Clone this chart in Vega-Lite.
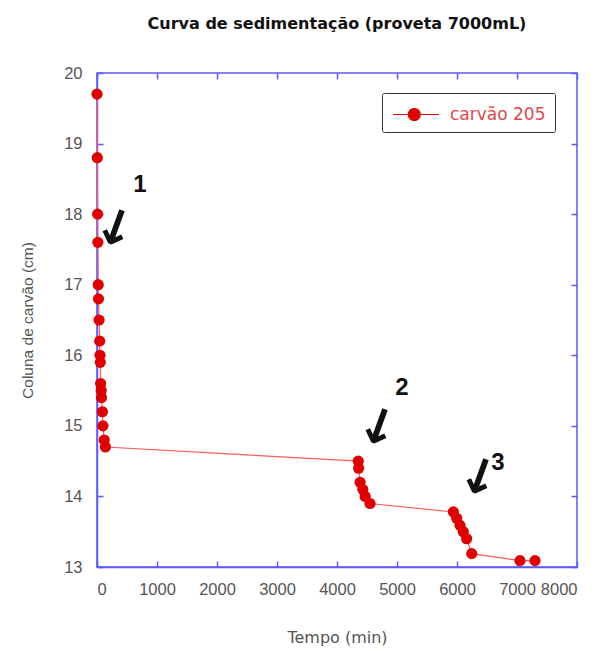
{
  "$schema": "https://vega.github.io/schema/vega-lite/v6.json",
  "width": 480,
  "height": 494,
  "autosize": "none",
  "padding": {"left": 97, "top": 73, "right": 21, "bottom": 84},
  "background": "white",
  "title": {
    "text": "Curva de sedimentação (proveta 7000mL)",
    "font": "DejaVu Sans",
    "fontSize": 16,
    "fontWeight": "bold",
    "color": "#111",
    "offset": 33,
    "anchor": "middle"
  },
  "config": {
    "view": {"stroke": "#5a5aff", "strokeWidth": 1.5},
    "axis": {
      "domainColor": "#5a5aff",
      "domainWidth": 1.5,
      "tickColor": "#5a5aff",
      "tickWidth": 1.5,
      "tickSize": -6,
      "grid": false,
      "labelColor": "#555",
      "labelFont": "Liberation Sans",
      "labelFontSize": 16.5,
      "titleFont": "Liberation Sans",
      "titleFontSize": 15.5,
      "titleFontWeight": "normal",
      "titleColor": "#555"
    }
  },
  "datasets": {
    "pts": [
      {"t": 0, "h": 19.7, "s": "carvão 205"},
      {"t": 5, "h": 18.8, "s": "carvão 205"},
      {"t": 10, "h": 18.0, "s": "carvão 205"},
      {"t": 15, "h": 17.6, "s": "carvão 205"},
      {"t": 20, "h": 17.0, "s": "carvão 205"},
      {"t": 25, "h": 16.8, "s": "carvão 205"},
      {"t": 35, "h": 16.5, "s": "carvão 205"},
      {"t": 45, "h": 16.2, "s": "carvão 205"},
      {"t": 50, "h": 16.0, "s": "carvão 205"},
      {"t": 55, "h": 15.9, "s": "carvão 205"},
      {"t": 60, "h": 15.6, "s": "carvão 205"},
      {"t": 70, "h": 15.5, "s": "carvão 205"},
      {"t": 75, "h": 15.4, "s": "carvão 205"},
      {"t": 90, "h": 15.2, "s": "carvão 205"},
      {"t": 100, "h": 15.0, "s": "carvão 205"},
      {"t": 120, "h": 14.8, "s": "carvão 205"},
      {"t": 140, "h": 14.7, "s": "carvão 205"},
      {"t": 4355, "h": 14.5, "s": "carvão 205"},
      {"t": 4360, "h": 14.4, "s": "carvão 205"},
      {"t": 4385, "h": 14.2, "s": "carvão 205"},
      {"t": 4430, "h": 14.1, "s": "carvão 205"},
      {"t": 4470, "h": 14.0, "s": "carvão 205"},
      {"t": 4550, "h": 13.9, "s": "carvão 205"},
      {"t": 5940, "h": 13.78, "s": "carvão 205"},
      {"t": 5995, "h": 13.69, "s": "carvão 205"},
      {"t": 6050, "h": 13.59, "s": "carvão 205"},
      {"t": 6105, "h": 13.5, "s": "carvão 205"},
      {"t": 6160, "h": 13.4, "s": "carvão 205"},
      {"t": 6245, "h": 13.19, "s": "carvão 205"},
      {"t": 7050, "h": 13.09, "s": "carvão 205"},
      {"t": 7300, "h": 13.09, "s": "carvão 205"}
    ],
    "nums": [
      {"t": 717, "h": 18.41, "lab": "1"},
      {"t": 5083, "h": 15.53, "lab": "2"},
      {"t": 6683, "h": 14.48, "lab": "3"}
    ],
    "arrows": [
      {"t": 300, "h": 17.78, "lab": "↓"},
      {"t": 4683, "h": 14.96, "lab": "↓"},
      {"t": 6367, "h": 14.25, "lab": "↓"}
    ]
  },
  "resolve": {"axis": {"x": "independent", "y": "independent"}},
  "layer": [
    {
      "data": {"name": "pts"},
      "mark": {"type": "line", "color": "#ff5a5a", "strokeWidth": 1.2},
      "encoding": {
        "x": {"field": "t", "type": "quantitative", "scale": {"domain": [0, 8000], "nice": false},
          "axis": {"title": "Tempo (min)", "titleFont": "DejaVu Sans", "titleFontSize": 16, "format": "d", "values": [0,1000,2000,3000,4000,5000,6000,7000,8000], "labelPadding": 20, "titlePadding": 32}},
        "y": {"field": "h", "type": "quantitative", "scale": {"domain": [13, 20], "nice": false, "zero": false},
          "axis": {"title": "Coluna de carvão (cm)", "format": "d", "values": [13,14,15,16,17,18,19,20], "labelPadding": 21, "titlePadding": 28}}
      }
    },
    {
      "data": {"name": "pts"},
      "mark": {"type": "point", "filled": true, "opacity": 1, "size": 125},
      "encoding": {
        "x": {"field": "t", "type": "quantitative", "axis": {"orient": "top", "labels": false, "title": null, "domain": false, "values": [0,1000,2000,3000,4000,5000,6000,7000,8000]}},
        "y": {"field": "h", "type": "quantitative", "axis": {"orient": "right", "labels": false, "title": null, "domain": false, "values": [13,14,15,16,17,18,19,20]}},
        "color": {
          "field": "s", "type": "nominal",
          "scale": {"range": ["#e00000"]},
          "legend": {
            "title": null,
            "orient": "none",
            "legendX": 285,
            "legendY": 20,
            "strokeColor": "#333",
            "cornerRadius": 2,
            "padding": 9,
            "symbolType": "M-0.91,0H3.09M0.42,0A0.52,0.52 0 1,0 1.46,0A0.52,0.52 0 1,0 0.42,0",
            "symbolSize": 529,
            "symbolStrokeWidth": 1.2,
            "symbolStrokeColor": "#e00000",
            "symbolFillColor": "#e00000",
            "labelColor": "#e04848",
            "labelFont": "DejaVu Sans",
            "labelFontSize": 17,
            "labelOffset": 34,
            "labelLimit": 200
          }
        }
      }
    },
    {
      "data": {"name": "nums"},
      "mark": {"type": "text", "font": "Liberation Sans", "fontSize": 24, "fontWeight": "bold", "color": "#111"},
      "encoding": {
        "x": {"field": "t", "type": "quantitative", "axis": null},
        "y": {"field": "h", "type": "quantitative", "axis": null},
        "text": {"field": "lab"}
      }
    },
    {
      "data": {"name": "arrows"},
      "mark": {"type": "text", "font": "DejaVu Sans", "fontSize": 49, "fontWeight": "bold", "color": "#111", "angle": 20, "baseline": "middle"},
      "encoding": {
        "x": {"field": "t", "type": "quantitative", "axis": null},
        "y": {"field": "h", "type": "quantitative", "axis": null},
        "text": {"field": "lab"}
      }
    }
  ]
}
